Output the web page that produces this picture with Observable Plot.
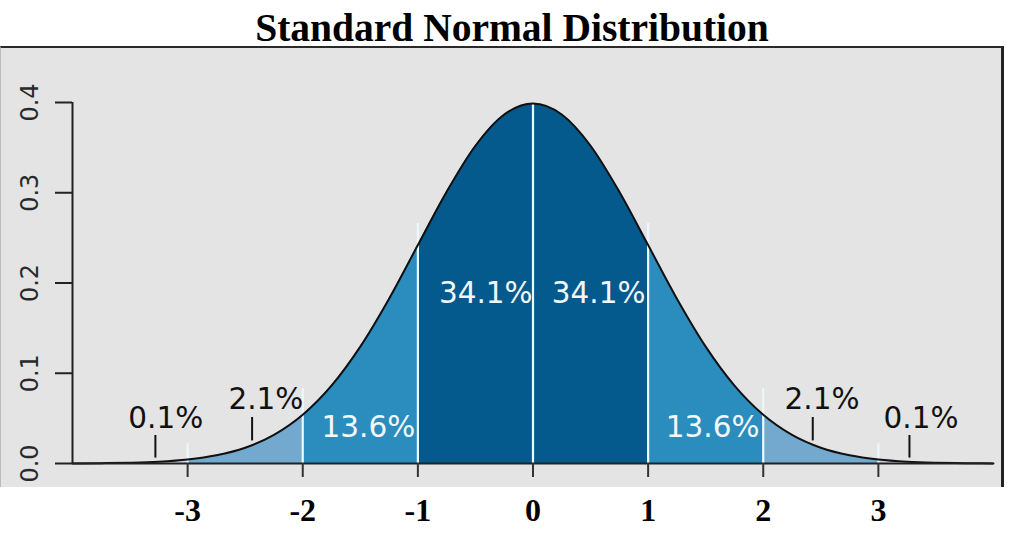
<!DOCTYPE html>
<html>
<head>
<meta charset="utf-8">
<script src="https://cdn.jsdelivr.net/npm/d3@7"></script>
<script src="https://cdn.jsdelivr.net/npm/@observablehq/plot@0.6"></script>
<style>
  html, body { margin: 0; padding: 0; background: #ffffff; }
  #wrap { position: relative; width: 1016px; height: 534px; overflow: hidden; }
  #title { position: absolute; top: 0; left: 4px; width: 1016px; height: 47px;
    font-family: "Liberation Serif", "Times New Roman", serif; font-weight: bold;
    font-size: 39.5px; line-height: 57px; text-align: center; color: #000; }
  #panel { position: absolute; top: 46px; left: 0; width: 1004px; height: 441px;
    background: #e4e4e4; border-top: 2px solid #2a2a2a; border-right: 3px solid #222;
    border-left: 1px solid #bbb; box-sizing: border-box; }
  #chart { position: absolute; top: 47px; left: 0; }
</style>
</head>
<body>
<div id="wrap">
  <div id="panel"></div>
  <div id="title">Standard Normal Distribution</div>
  <div id="chart"></div>
</div>
<script>
// Density curve values (x in standard deviations)
const curveX = [-4, -3.75, -3.5, -3.25, -3, -2.75, -2.5, -2.25, -2, -1.75, -1.5, -1.25, -1, -0.75, -0.5, -0.25,
                0, 0.25, 0.5, 0.75, 1, 1.25, 1.5, 1.75, 2, 2.25, 2.5, 2.75, 3, 3.25, 3.5, 3.75, 4];
const curveY = [0.0001, 0.0004, 0.0009, 0.002, 0.0044, 0.0091, 0.0175, 0.0317, 0.054, 0.0863, 0.1295, 0.1826, 0.242, 0.3011, 0.3521, 0.3867,
                0.3989, 0.3867, 0.3521, 0.3011, 0.242, 0.1826, 0.1295, 0.0863, 0.054, 0.0317, 0.0175, 0.0091, 0.0044, 0.002, 0.0009, 0.0004, 0.0001];

// Shaded bands between standard-deviation boundaries
const bandLo = [-4, -3, -2, -1, 0, 1, 2, 3];
const bandHi = [-3, -2, -1, 0, 1, 2, 3, 4];
const bandShade = ["tail", "light", "mid", "dark", "dark", "mid", "light", "tail"];

// White divider lines
const dividerX = [-3, -2, -1, 0, 1, 2, 3];
const dividerTop = [0.022, 0.083, 0.266, 0.399, 0.266, 0.083, 0.022];

// Percentage labels
const pctText = ["0.1%", "2.1%", "13.6%", "34.1%", "34.1%", "13.6%", "2.1%", "0.1%"];
const pctX = [-3.19, -2.32, -1.43, -0.41, 0.57, 1.56, 2.51, 3.37];
const pctY = [0.039, 0.060, 0.029, 0.178, 0.178, 0.029, 0.060, 0.039];
const pctInside = [false, false, true, true, true, true, false, false];

// Small pointer marks for outside labels
const pointerX = [-3.28, -2.44, 2.43, 3.27];
const pointerLo = [0.006, 0.025, 0.025, 0.006];
const pointerHi = [0.031, 0.051, 0.051, 0.031];

// Axis ticks
const xTicks = [-3, -2, -1, 0, 1, 2, 3];
const xTickLabels = ["-3", "-2", "-1", "0", "1", "2", "3"];
const yTicks = [0, 0.1, 0.2, 0.3, 0.4];
const yTickLabels = ["0.0", "0.1", "0.2", "0.3", "0.4"];

const shadeColor = {tail: "#c9d3e3", light: "#74a9cf", mid: "#2b8cbe", dark: "#045a8d"};

const curve = curveX.map((x, i) => ({x, y: curveY[i]}));
const bands = [];
bandLo.forEach((lo, b) => {
  curve.filter(d => d.x >= lo && d.x <= bandHi[b])
       .forEach(d => bands.push({x: d.x, y: d.y, band: b, shade: bandShade[b]}));
});
const dividers = dividerX.map((x, i) => ({x, top: dividerTop[i]}));
const pct = pctText.map((t, i) => ({t, x: pctX[i], y: pctY[i], inside: pctInside[i]}));
const pointers = pointerX.map((x, i) => ({x, lo: pointerLo[i], hi: pointerHi[i]}));
const xLab = xTicks.map((x, i) => ({x, t: xTickLabels[i]}));
const yLab = yTicks.map((y, i) => ({y, t: yTickLabels[i]}));

const sans = "'DejaVu Sans', Verdana, sans-serif";

const plot = Plot.plot({
  width: 1016,
  height: 487,
  marginLeft: 72,
  marginRight: 23,
  marginTop: 55,
  marginBottom: 71,
  style: {background: "transparent", overflow: "visible"},
  x: {domain: [-4, 4]},
  y: {domain: [0, 0.4]},
  marks: [
    Plot.areaY(bands, {x: "x", y1: 0, y2: "y", z: "band", fill: d => shadeColor[d.shade], curve: "monotone-x"}),
    Plot.ruleX(dividers, {x: "x", y1: 0, y2: "top", stroke: "#eef7fb", strokeWidth: 2.2}),
    Plot.lineY(curve, {x: "x", y: "y", stroke: "#111", strokeWidth: 2, curve: "monotone-x"}),
    Plot.ruleX(pointers, {x: "x", y1: "lo", y2: "hi", stroke: "#111", strokeWidth: 2}),
    Plot.text(pct, {x: "x", y: "y", text: "t", fill: d => d.inside ? "#f2f7fa" : "#111",
      fontFamily: sans, fontSize: 29.5, textAnchor: "middle", lineAnchor: "bottom"}),
    Plot.ruleY([0], {x1: -4, x2: 4, stroke: "#222", strokeWidth: 2}),
    Plot.ruleX([-4], {y1: 0, y2: 0.4, stroke: "#222", strokeWidth: 2}),
    Plot.axisY({ticks: yTicks, tickSize: 17, tickFormat: () => "", label: null, stroke: "#222", strokeWidth: 2}),
    Plot.text(yLab, {x: -4, y: "y", text: "t", dx: -42, rotate: -90, fontFamily: sans, fontSize: 24,
      fill: "#2a2a2a", textAnchor: "middle", lineAnchor: "middle"}),
    Plot.axisX({ticks: xTicks, tickSize: 14, tickFormat: () => "", label: null, stroke: "#333", strokeWidth: 2}),
    Plot.text(xLab, {x: "x", y: 0, text: "t", dy: 57, fontFamily: "'Liberation Serif', 'Times New Roman', serif",
      fontWeight: "bold", fontSize: 32, fill: "#000", textAnchor: "middle", lineAnchor: "bottom"})
  ]
});
document.getElementById("chart").appendChild(plot);
</script>
</body>
</html>
